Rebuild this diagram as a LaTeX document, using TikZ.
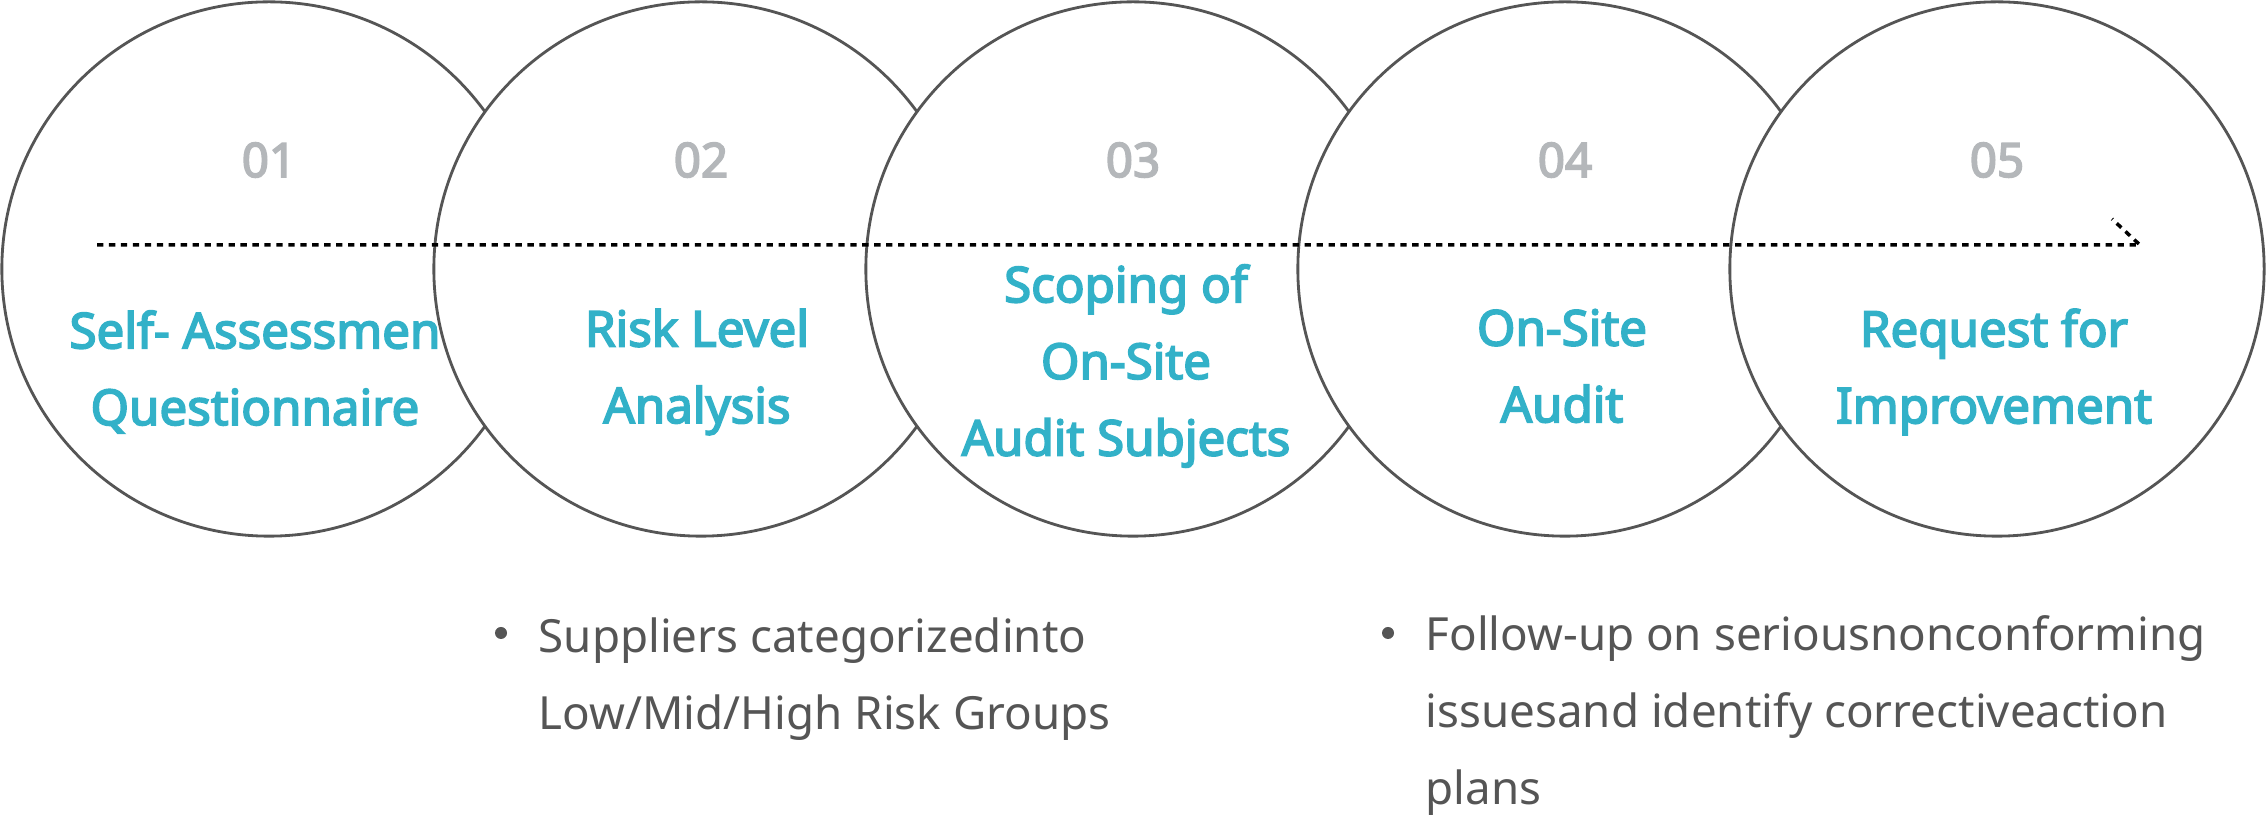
\documentclass[tikz,border=0pt]{standalone}
\usepackage{fontspec}
\setmainfont{Noto Sans}
\newfontfamily\heavyfont{Noto Sans}[FakeBold=3.5]

\definecolor{stepteal}{HTML}{32B1C8}
\definecolor{stepgray}{HTML}{B4B7BA}
\definecolor{ringgray}{HTML}{555555}
\definecolor{bodygray}{HTML}{555555}

\tikzset{
  stepcirc/.style={circle,draw=ringgray,line width=0.8pt,fill=white,minimum size=5.34cm,inner sep=0pt},
  stepnum/.style={anchor=base,text=stepgray,font=\fontsize{13.5}{16}\selectfont\heavyfont},
  steptitle/.style={text=stepteal,align=center,font=\fontsize{14}{21.8}\selectfont\heavyfont},
  bulletdot/.style={circle,fill=bodygray,minimum size=0.12cm,inner sep=0pt},
  bullettext/.style={anchor=base west,inner sep=0pt,text=bodygray,align=left,font=\fontsize{13}{21.9}\selectfont},
  flowline/.style={line width=1pt,dash pattern=on 1.8pt off 1.6pt,black}
}

\begin{document}
\begin{tikzpicture}[x=0.01cm,y=-0.01cm]
\useasboundingbox (0,0) rectangle (2268,828);

\node[stepcirc] (c1) at (269,269) {};
\node[stepnum] (n1) at (269,177) {01};
\node[steptitle] (t1) at (255,372) {Self- Assessmen\\Questionnaire};

\node[stepcirc] (c2) at (701,269) {};
\node[stepnum] (n2) at (701,177) {02};
\node[steptitle] (t2) at (697,372) {Risk Level\\Analysis};

\node[stepcirc] (c3) at (1133,269) {};
\node[stepnum] (n3) at (1133,177) {03};
\node[steptitle] (t3) at (1126,366) {Scoping of\\On-Site\\Audit Subjects};

\node[stepcirc] (c4) at (1565,269) {};
\node[stepnum] (n4) at (1565,177) {04};
\node[steptitle] (t4) at (1562,366) {On-Site\\Audit};

\node[stepcirc] (c5) at (1997,269) {};
\node[stepnum] (n5) at (1997,177) {05};
\node[steptitle] (t5) at (1994,372) {Request for\\Improvement};

\coordinate (start) at (97,245);
\coordinate (tip) at (2140,245);
\coordinate (barb) at (2112,219);
\draw[flowline] (start) -- (tip) -- (barb);

\node[bulletdot] (d1) at (501,633) {};
\node[bullettext] (b1) at (538,730) {Suppliers categorizedinto\\Low/Mid/High Risk Groups};

\node[bulletdot] (d2) at (1388,633) {};
\node[bullettext] (b2) at (1425,805) {Follow-up on seriousnonconforming\\issuesand identify correctiveaction\\plans};
\end{tikzpicture}
\end{document}
